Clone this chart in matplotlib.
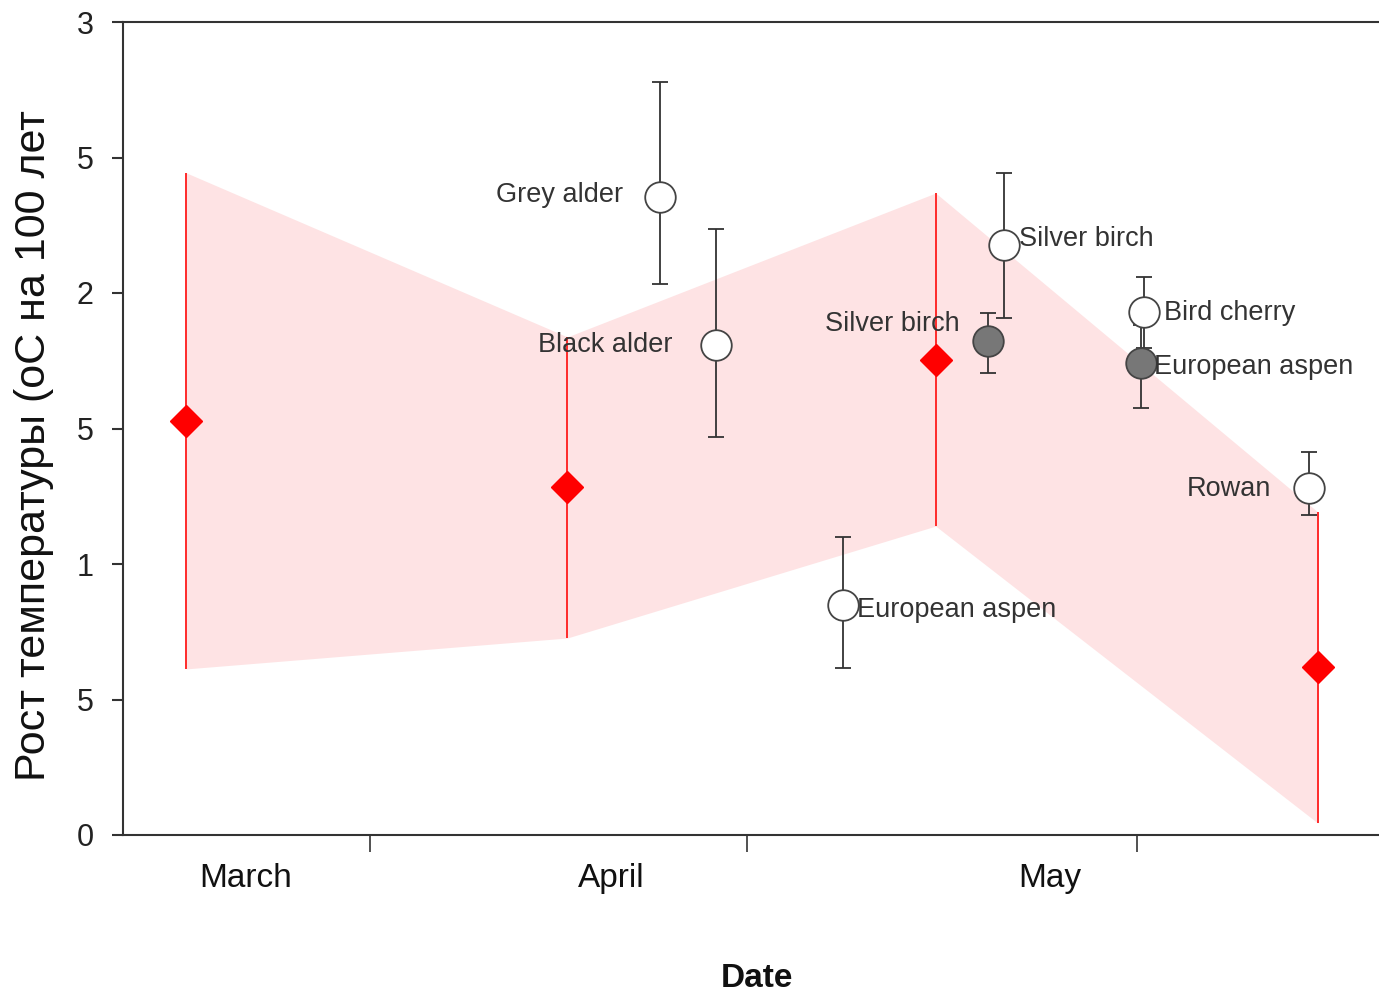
import numpy as np
import matplotlib.pyplot as plt

# --- Data (days counted from 1 March) ---

# regional trend (red diamonds + pink band)
trend_day = [16.4, 46.7, 76.0, 106.4]
trend_val = [1.528, 1.284, 1.753, 0.620]
trend_lo = [0.613, 0.727, 1.140, 0.044]
trend_hi = [2.443, 1.838, 2.369, 1.192]

# species observations
species = ['Grey alder', 'Black alder', 'European aspen', 'Silver birch',
           'Silver birch', 'Bird cherry', 'European aspen', 'Rowan']
sp_day = [54.1, 58.5, 68.6, 81.4, 80.2, 92.6, 92.3, 105.7]
sp_val = [2.355, 1.808, 0.849, 2.177, 1.824, 1.929, 1.741, 1.280]
sp_lo = [2.032, 1.469, 0.617, 1.908, 1.705, 1.796, 1.576, 1.181]
sp_hi = [2.779, 2.235, 1.100, 2.444, 1.927, 2.060, 1.882, 1.413]
sp_filled = [False, False, False, False, True, False, True, False]

month_edges = [31, 61, 92]
month_names = ['March', 'April', 'May']
month_label_pos = [21.1, 50.2, 85.1]

ytick_vals = [0, 0.5, 1, 1.5, 2, 2.5, 3]
ytick_text = ['0', '5', '1', '5', '2', '5', '3']

# label offsets in points (dx, dy, ha)
label_offsets = [(-27, 1.5, 'right'), (-31, 0, 'right'), (10, -3.5, 'left'),
                 (11, 4, 'left'), (-21, 12, 'right'), (14, -0.5, 'left'),
                 (10, -3, 'left'), (-27, -0.5, 'right')]

plt.rcParams['font.family'] = ['Liberation Sans', 'DejaVu Sans']

fig = plt.figure(figsize=(13.79, 9.94), dpi=100)
ax = fig.add_axes([123 / 1379, 1 - 835 / 994, 1 - 123 / 1379, (835 - 22) / 994])

# pink band
ax.fill_between(trend_day, trend_lo, trend_hi, color='#fee3e4', lw=0, zorder=1)

# red error lines + diamonds
t_err = [np.array(trend_val) - np.array(trend_lo), np.array(trend_hi) - np.array(trend_val)]
ax.errorbar(trend_day, trend_val, yerr=t_err, fmt='D', color='#ff0000',
            ecolor='#ff2a2a', elinewidth=1.4, capsize=0, ms=16, mec='#ff0000', zorder=3)

# species points
for i in range(len(species)):
    lo = sp_val[i] - sp_lo[i]
    hi = sp_hi[i] - sp_val[i]
    face = '#777777' if sp_filled[i] else 'white'
    ax.errorbar([sp_day[i]], [sp_val[i]], yerr=[[lo], [hi]], fmt='o', color='#333333',
                ecolor='#333333', elinewidth=1.3, capsize=6, capthick=1.3,
                ms=22, mfc=face, mec='#444444', mew=1.3, zorder=4)
    dx, dy, ha = label_offsets[i]
    ax.annotate(species[i], (sp_day[i], sp_val[i]), xytext=(dx, dy),
                textcoords='offset points', ha=ha, va='center',
                fontsize=19.5, color='#333333', zorder=5)

ax.set_xlim(11.35, 111.27)
ax.set_ylim(0, 3)

ax.spines['right'].set_visible(False)
for s in ['left', 'bottom', 'top']:
    ax.spines[s].set_color('#333333')
    ax.spines[s].set_linewidth(1.5)

ax.set_yticks(ytick_vals)
ax.set_yticklabels(ytick_text)
ax.tick_params(axis='y', direction='out', length=8, width=1.5, color='#333333',
               pad=13, labelsize=22, labelcolor='#222222')

ax.set_xticks(month_edges)
ax.set_xticklabels([])
ax.set_xticks(month_label_pos, minor=True)
ax.set_xticklabels(month_names, minor=True)
ax.tick_params(axis='x', which='major', direction='out', length=12, width=1.2, color='#333333')
ax.tick_params(axis='x', which='minor', length=0, pad=20, labelsize=24, labelcolor='#111111')

ax.set_xlabel('Date', fontsize=24, fontweight='bold', color='#111111')
ax.xaxis.set_label_coords(0.505, -0.157)

fig.text(14 / 1379, 1 - 446 / 994, 'Рост температуры (оС на 100 лет', rotation=90,
         ha='left', va='center', fontsize=31, color='#111111')

plt.savefig('out.png', dpi=100)
